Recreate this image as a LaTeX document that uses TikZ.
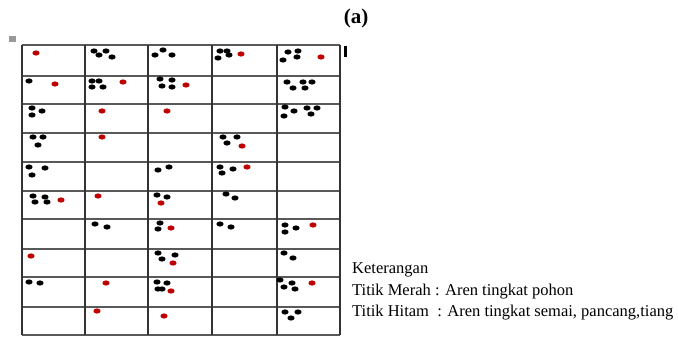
\documentclass[tikz,border=0pt]{standalone}
\usepackage{fontspec}
\setmainfont{Liberation Serif}
\tikzset{
  hitam/.style={fill=black},
  merah/.style={fill=red!75!black},
  garis/.style={line width=1.8pt, draw=black!80},
}
\begin{document}
\begin{tikzpicture}[x=1pt, y=-1pt]
  \useasboundingbox (0,0) rectangle (678,337);
  % title
  \node[font=\fontsize{21}{23}\selectfont\bfseries] (judul) at (356,18) {(a)};
  % small handles of the table
  \fill[black!40] (9,36) rectangle (16,42);
  \fill[black] (343.5,46) rectangle (346.5,57);
  % grid 5 x 10
  \foreach \y in {45,76,104,133,162,191,219,249,277,307,335}
    \draw[garis, draw=black!65] (22,\y) -- (340,\y);
  \foreach \x in {22,85,148,212,277,340}
    \draw[garis] (\x,45) -- (\x,335);
  % black dots: semai, pancang, tiang
  \foreach \p in {(94,51),(106,51),(99,55),(112,57),
                  (163,50),(155,55),(172,55),
                  (220,51),(227,51),(229,55),(218,58),
                  (288,52),(298,51),(297,57),(283,60),
                  (29,81),(92,81),(99,81),(92,87),(103,87),
                  (160,79),(172,80),(162,86),(172,87),
                  (287,82),(303,82),(312,82),(293,88),(305,88),
                  (32,108),(42,111),(32,115),
                  (285,107),(294,111),(307,108),(317,108),(284,116),(311,114),
                  (33,137),(43,137),(38,145),
                  (223,137),(237,137),(227,143),
                  (29,167),(45,168),(32,175),
                  (158,170),(169,167),
                  (220,167),(233,169),(222,173),
                  (33,196),(45,197),(35,202),(47,202),
                  (157,195),(167,197),
                  (226,194),(235,198),
                  (95,224),(107,227),
                  (160,223),(158,229),
                  (220,224),(231,227),
                  (285,225),(296,228),(285,232),
                  (158,253),(175,255),(162,259),
                  (284,253),(293,258),
                  (29,282),(40,283),
                  (157,282),(167,283),(158,289),(162,289),
                  (280,280),(292,283),(284,287),(295,289),
                  (285,312),(298,312),(291,318)}
    \fill[hitam] \p ellipse (3.6pt and 2.6pt);
  % red dots: pohon
  \foreach \p in {(36,53),(241,54),(321,57),
                  (55,84),(123,82),(186,85),
                  (102,111),(167,111),
                  (102,137),(242,146),
                  (247,167),
                  (61,200),(98,196),(161,203),
                  (171,228),(313,225),
                  (31,256),(173,263),
                  (106,283),(171,291),(312,283),
                  (97,311),(164,316)}
    \fill[merah] \p ellipse (3.6pt and 2.6pt);
  % legend
  \begin{scope}[every node/.style={anchor=base west, inner sep=0pt,
      font=\fontsize{16.5}{21}\selectfont}]
    \node (ket) at (352,273) {Keterangan};
    \node (merah) at (352,295) {Titik Merah : Aren tingkat pohon};
    \node (hitam) at (352,316) {Titik Hitam \ : Aren tingkat semai, pancang,tiang};
  \end{scope}
\end{tikzpicture}
\end{document}
